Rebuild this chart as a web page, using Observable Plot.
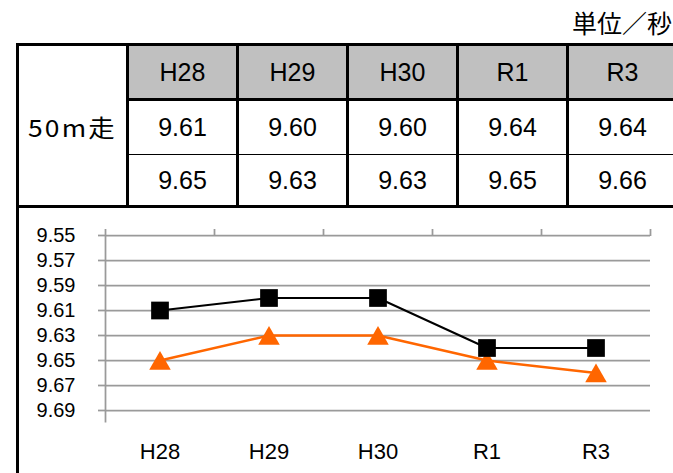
<!DOCTYPE html>
<html>
<head>
<meta charset="utf-8">
<script src="https://cdn.jsdelivr.net/npm/d3@7"></script>
<script src="https://cdn.jsdelivr.net/npm/@observablehq/plot@0.6"></script>
<style>
  html, body { margin: 0; padding: 0; background: #fff; }
  body { width: 673px; height: 473px; position: relative; overflow: hidden; }
  #unit { position: absolute; right: 1px; top: 10px; font-family: "Noto Sans CJK JP", sans-serif; font-size: 25px; line-height: 1; color: #000; white-space: nowrap; }
  #table { position: absolute; left: 16px; top: 43px; display: grid;
    grid-template-columns: 113px repeat(5, 110px); grid-template-rows: 58px 54px 53px; }
  .cell { box-sizing: border-box; display: flex; align-items: center; justify-content: center;
    font-family: "Liberation Sans", Arial, sans-serif; font-size: 25px; color: #000;
    border-right: 3px solid #000; }
  .head { background: #c0c0c0; border-top: 3px solid #000; border-bottom: 3px solid #000; }
  .r1 { border-bottom: 1px solid #000; }
  .r2 { border-bottom: 3px solid #000; }
  .label { grid-row: 1 / span 3; grid-column: 1; border: 3px solid #000;
    font-family: "Noto Sans CJK JP", sans-serif; font-size: 24px; padding-top: 2px; }
  .label span { display: inline-block; letter-spacing: 2px; transform: scaleX(1.1); }
  #leftBorder { position: absolute; left: 16px; top: 206px; width: 3px; height: 280px; background: #000; }
  #chart { position: absolute; left: 0; top: 208px; }
</style>
</head>
<body>
<div id="unit">単位／秒</div>
<div id="table"></div>
<div id="leftBorder"></div>
<div id="chart"></div>
<script>
// ---- data ----
const years = ["H28", "H29", "H30", "R1", "R3"];
const rowLabel = "50m走";
const seriesA = [9.61, 9.60, 9.60, 9.64, 9.64];   // black squares
const seriesB = [9.65, 9.63, 9.63, 9.65, 9.66];   // orange triangles
const yTicks = [9.55, 9.57, 9.59, 9.61, 9.63, 9.65, 9.67, 9.69];
const yDomain = [9.55, 9.70];

// ---- table ----
const table = document.getElementById("table");
const lab = document.createElement("div");
lab.className = "cell label";
const labSpan = document.createElement("span");
labSpan.textContent = rowLabel;
lab.appendChild(labSpan);
table.appendChild(lab);
years.forEach((y, i) => {
  const c = document.createElement("div");
  c.className = "cell head";
  c.style.gridRow = "1"; c.style.gridColumn = String(i + 2);
  c.textContent = y;
  table.appendChild(c);
});
[seriesA, seriesB].forEach((vals, r) => {
  vals.forEach((v, i) => {
    const c = document.createElement("div");
    c.className = "cell " + (r === 0 ? "r1" : "r2");
    c.style.gridRow = String(r + 2); c.style.gridColumn = String(i + 2);
    c.textContent = v.toFixed(2);
    table.appendChild(c);
  });
});

// ---- chart ----
const xPos = (d, i) => i + 0.5;
const gray = "#9a9a9a";
const chart = Plot.plot({
  width: 673,
  height: 265,
  marginTop: 27,
  marginBottom: 50.5,
  marginLeft: 105,
  marginRight: 23,
  x: { type: "linear", domain: [0, years.length], label: null },
  y: { domain: yDomain, reverse: true, label: null },
  style: { fontFamily: "'Liberation Sans', Arial, sans-serif", fontSize: "20px", color: "#000", background: "transparent", overflow: "visible" },
  marks: [
    Plot.gridY(yTicks, { stroke: gray, strokeOpacity: 1, strokeWidth: 1.75 }),
    Plot.axisY(yTicks, { tickSize: 7, tickPadding: 23, stroke: gray, strokeWidth: 1.75, tickFormat: d => d.toFixed(2), fontSize: 20, label: null }),
    Plot.axisX(d3.range(years.length + 1), { anchor: "top", tickSize: 7, tickFormat: () => "", stroke: gray, strokeWidth: 1.75, label: null }),
    Plot.ruleX([0], { stroke: gray, strokeWidth: 1.75 }),
    Plot.axisX(years.map(xPos), { anchor: "bottom", tickSize: 0, tickPadding: 20, tickFormat: d => years[Math.floor(d)], fontSize: 22, label: null }),
    Plot.line(seriesB, { x: xPos, y: d => d, stroke: "#ff6600", strokeWidth: 2.5 }),
    Plot.dot(seriesB, { x: xPos, y: d => d, symbol: "triangle", r: 8, fill: "#ff6600", stroke: "none", dy: 3 }),
    Plot.line(seriesA, { x: xPos, y: d => d, stroke: "#000", strokeWidth: 2 }),
    Plot.dot(seriesA, { x: xPos, y: d => d, symbol: "square", r: 10, fill: "#000", stroke: "none" })
  ]
});
document.getElementById("chart").appendChild(chart);
</script>
</body>
</html>
